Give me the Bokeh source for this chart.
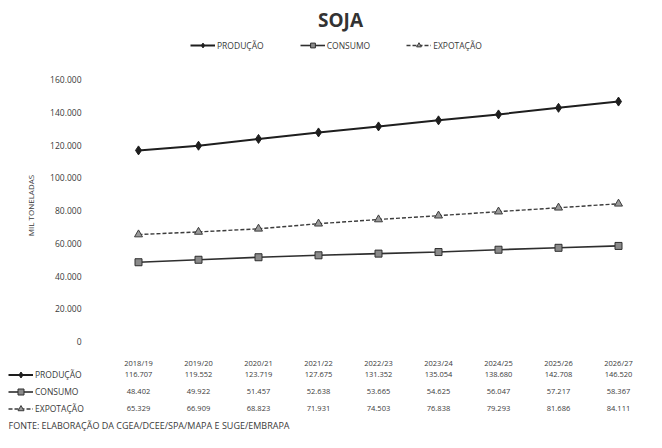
import math
from bokeh.plotting import figure
from bokeh.models import Range1d, FixedTicker, Label, Legend, LegendItem, LinearAxis
from bokeh.embed import file_html
from bokeh.resources import INLINE

# ---- data ----
categories = ["2018/19", "2019/20", "2020/21", "2021/22", "2022/23",
              "2023/24", "2024/25", "2025/26", "2026/27"]
producao = [116707, 119552, 123719, 127675, 131352, 135054, 138680, 142708, 146520]
consumo = [48402, 49922, 51457, 52638, 53665, 54625, 56047, 57217, 58367]
exportacao = [65329, 66909, 68823, 71931, 74503, 76838, 79293, 81686, 84111]
series_names = ["PRODUÇÃO", "CONSUMO", "EXPOTAÇÃO"]
y_ticks = [0, 20000, 40000, 60000, 80000, 100000, 120000, 140000, 160000]
title_text = "SOJA"
y_label = "MIL TONELADAS"
source_text = "FONTE: ELABORAÇÃO DA CGEA/DCEE/SPA/MAPA E SUGE/EMBRAPA"

FONT = "Open Sans"
TXT = "#3a3a3a"

# ---- layout (pixels) ----
W, H = 646, 432
CAT_LEFT, CAT_W = 108, 60      # left edge of category area, width of one category
Y_ZERO, Y_TOP = 341, 79        # pixel rows of value 0 and of the top tick


def fmt(v):
    return f"{v:,}".replace(",", ".")


xs = [i + 0.5 for i in range(len(categories))]
upp = y_ticks[-1] / (Y_ZERO - Y_TOP)   # data units per pixel

p = figure(width=W, height=H, output_backend="svg", toolbar_location=None,
           x_range=Range1d(-CAT_LEFT / CAT_W, (W - CAT_LEFT) / CAT_W),
           y_range=Range1d(-(H - Y_ZERO) * upp, Y_ZERO * upp),
           x_axis_type=None, y_axis_type=None,
           min_border=0)
p.outline_line_color = None
p.background_fill_color = "white"
p.border_fill_color = "white"

# axes, fixed at the chart's origin
xaxis = LinearAxis(fixed_location=0, bounds=(0, len(categories)),
                   ticker=FixedTicker(ticks=xs),
                   major_label_overrides={x: c for x, c in zip(xs, categories)})
yaxis = LinearAxis(fixed_location=0, bounds=(0, y_ticks[-1]),
                   ticker=FixedTicker(ticks=y_ticks),
                   major_label_overrides={t: fmt(t) for t in y_ticks})
for ax in (xaxis, yaxis):
    ax.axis_line_color = None
    ax.major_tick_line_color = None
    ax.minor_tick_line_color = None
    ax.major_label_text_font = FONT
    ax.major_label_text_color = TXT
xaxis.major_label_text_font_size = "7.5px"
yaxis.major_label_text_font_size = "8.5px"
xaxis.major_label_standoff = 10
yaxis.major_label_standoff = 21
p.add_layout(xaxis, "below")
p.add_layout(yaxis, "left")

# series
styles = [
    dict(color="#1e1e1e", width=2, dash="solid", marker="diamond", size=9, fill="#1e1e1e"),
    dict(color="#2e2e2e", width=1.6, dash="solid", marker="square", size=7, fill="#8a8a8a"),
    dict(color="#3c3c3c", width=1.4, dash="4 2", marker="triangle", size=8, fill="#9a9a9a"),
]
renderers = []
for vals, st in zip([producao, consumo, exportacao], styles):
    rl = p.line(xs, vals, line_color=st["color"], line_width=st["width"],
                line_dash=st["dash"])
    rm = p.scatter(xs, vals, marker=st["marker"], size=st["size"],
                   fill_color=st["fill"], line_color=st["color"], line_width=1)
    renderers.append([rl, rm])


def make_legend(orientation, location, font_size, **kw):
    return Legend(items=[LegendItem(label=n, renderers=r) for n, r in zip(series_names, renderers)],
                  orientation=orientation, location=location,
                  glyph_width=25, label_standoff=2, padding=0, margin=0,
                  border_line_color=None, background_fill_alpha=0,
                  label_text_font=FONT, label_text_font_size=font_size,
                  label_text_color=TXT, **kw)


# legend above the chart (location = left / bottom in pixels from frame's lower-left)
p.add_layout(make_legend("horizontal", (190, H - 51), "8.5px",
                         glyph_height=12, label_height=12, spacing=36))
# legend keys of the data table rows
p.add_layout(make_legend("vertical", (8, H - 416), "8.5px",
                         glyph_height=15, label_height=15, spacing=2))

# data table values
for vals, row_y in zip([producao, consumo, exportacao], [374, 391, 408]):
    for x, v in zip(xs, vals):
        p.add_layout(Label(x=x, y=0, y_offset=Y_ZERO - row_y, text=fmt(v),
                           text_align="center", text_baseline="middle",
                           text_font=FONT, text_font_size="7.5px", text_color=TXT))

# title
p.add_layout(Label(x=0, x_offset=340 - CAT_LEFT, y=0, y_offset=Y_ZERO - 19,
                   text=title_text, text_align="center", text_baseline="middle",
                   text_font=FONT, text_font_style="bold", text_font_size="19px",
                   text_color="#333333"))
# y axis title
p.add_layout(Label(x=0, x_offset=30 - CAT_LEFT, y=y_ticks[-1] / 2, y_offset=-(205 - (Y_ZERO + Y_TOP) / 2),
                   text=y_label, angle=math.pi / 2, text_align="center",
                   text_baseline="middle", text_font=FONT, text_font_size="8px",
                   text_color=TXT))
# source
p.add_layout(Label(x=0, x_offset=8 - CAT_LEFT, y=0, y_offset=Y_ZERO - 425,
                   text=source_text, text_align="left", text_baseline="middle",
                   text_font=FONT, text_font_size="9px", text_color=TXT))

open("out.html", "w").write(file_html(p, INLINE))
